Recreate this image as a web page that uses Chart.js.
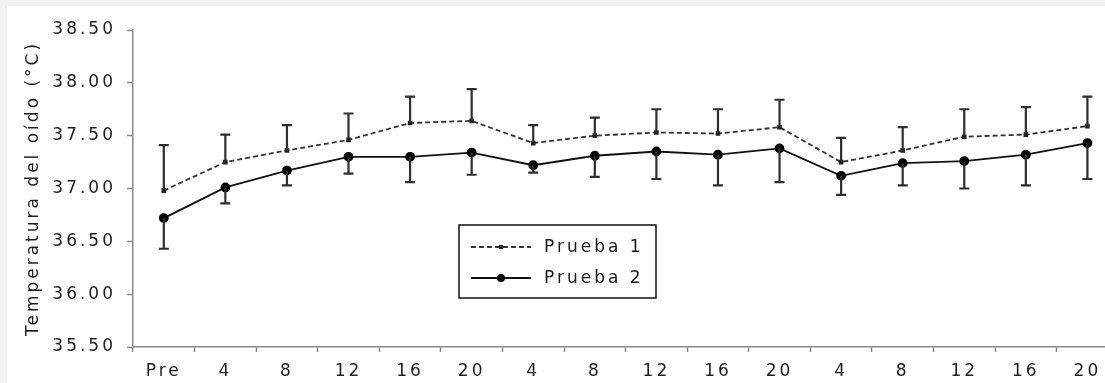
<!DOCTYPE html>
<html>
<head>
<meta charset="utf-8">
<script src="https://cdn.jsdelivr.net/npm/chart.js@4/dist/chart.umd.min.js"></script>
<style>
  html, body { margin: 0; padding: 0; background: #f2f2f2; overflow: hidden; width: 1105px; height: 383px; }
  #wrap { position: absolute; left: 7px; top: 6px; width: 1120px; height: 377px; background: #fff; }
  #chart { display: block; }
</style>
</head>
<body>
<div id="wrap"><canvas id="chart" width="1117" height="377"></canvas></div>
<script>
var labels = ['Pre', '4', '8', '12', '16', '20', '4', '8', '12', '16', '20', '4', '8', '12', '16', '20'];
var prueba1 = [36.98, 37.25, 37.36, 37.46, 37.62, 37.64, 37.43, 37.50, 37.53, 37.52, 37.58, 37.25, 37.36, 37.49, 37.51, 37.59];
var prueba1Upper = [37.41, 37.51, 37.60, 37.71, 37.87, 37.94, 37.60, 37.67, 37.75, 37.75, 37.84, 37.48, 37.58, 37.75, 37.77, 37.87];
var prueba2 = [36.72, 37.01, 37.17, 37.30, 37.30, 37.34, 37.22, 37.31, 37.35, 37.32, 37.38, 37.12, 37.24, 37.26, 37.32, 37.43];
var prueba2Lower = [36.43, 36.86, 37.03, 37.14, 37.06, 37.13, 37.15, 37.11, 37.09, 37.03, 37.06, 36.94, 37.03, 37.00, 37.03, 37.09];
var yTicks = [35.5, 36.0, 36.5, 37.0, 37.5, 38.0, 38.5];

var FONT = { family: "'DejaVu Sans', Verdana, sans-serif", size: 17 };
var SPACING = '3px';

// wide spacing like the original bitmap font
var spacing = {
    id: 'spacing',
    beforeUpdate: function (chart) { chart.ctx.letterSpacing = SPACING; },
    beforeDraw: function (chart) { chart.ctx.letterSpacing = SPACING; }
};

// error bars: Prueba 1 upward, Prueba 2 downward
var errorBars = {
    id: 'errorBars',
    afterDatasetsDraw: function (chart) {
        var ctx = chart.ctx, x = chart.scales.x, y = chart.scales.y;
        ctx.save();
        ctx.strokeStyle = '#2e2e2e';
        ctx.lineWidth = 2.2;
        function bar(i, from, to) {
            var px = x.getPixelForValue(i);
            var y0 = y.getPixelForValue(from), y1 = y.getPixelForValue(to);
            ctx.beginPath();
            ctx.moveTo(px, y0); ctx.lineTo(px, y1);
            ctx.moveTo(px - 5, y1); ctx.lineTo(px + 5, y1);
            ctx.stroke();
        }
        for (var i = 0; i < labels.length; i++) {
            bar(i, prueba1[i], prueba1Upper[i]);
            bar(i, prueba2[i], prueba2Lower[i]);
        }
        ctx.restore();
    }
};

// boxed legend inside the plot
var boxLegend = {
    id: 'boxLegend',
    afterDraw: function (chart) {
        var ctx = chart.ctx;
        var bx = 452, by = 219, bw = 197, bh = 73;
        ctx.save();
        ctx.strokeStyle = '#111';
        ctx.lineWidth = 1.5;
        ctx.strokeRect(bx, by, bw, bh);
        ctx.font = FONT.size + 'px ' + FONT.family;
        ctx.textBaseline = 'middle';
        ctx.letterSpacing = SPACING;
        chart.data.datasets.forEach(function (ds, k) {
            var ry = by + 22 + k * 31;
            ctx.strokeStyle = ds.borderColor;
            ctx.lineWidth = ds.borderWidth;
            ctx.setLineDash(ds.borderDash || []);
            ctx.beginPath();
            ctx.moveTo(bx + 12, ry); ctx.lineTo(bx + 72, ry);
            ctx.stroke();
            ctx.setLineDash([]);
            ctx.fillStyle = ds.pointBackgroundColor;
            if (ds.pointStyle === 'rect') {
                ctx.fillRect(bx + 42 - 2, ry - 2, 4, 4);
            } else {
                ctx.beginPath();
                ctx.arc(bx + 42, ry, 4, 0, Math.PI * 2);
                ctx.fill();
            }
            ctx.fillStyle = '#1a1a1a';
            ctx.fillText(ds.label, bx + 85, ry + 1);
        });
        ctx.restore();
    }
};

var ctx = document.getElementById('chart').getContext('2d');
var chart = new Chart(ctx, {
    type: 'line',
    data: {
        labels: labels,
        datasets: [
            {
                label: 'Prueba 1',
                data: prueba1,
                borderColor: '#333',
                borderWidth: 1.8,
                borderDash: [5, 3],
                pointStyle: 'rect',
                pointRadius: 2,
                pointBackgroundColor: '#222',
                pointBorderColor: '#222',
                tension: 0
            },
            {
                label: 'Prueba 2',
                data: prueba2,
                borderColor: '#111',
                borderWidth: 1.8,
                pointStyle: 'circle',
                pointRadius: 4,
                pointBackgroundColor: '#000',
                pointBorderColor: '#000',
                tension: 0
            }
        ]
    },
    options: {
        responsive: false,
        animation: false,
        layout: { padding: { top: 24, right: 0, left: 0, bottom: 0 } },
        plugins: { legend: { display: false }, tooltip: { enabled: false } },
        scales: {
            x: {
                offset: true,
                grid: { offset: true, drawOnChartArea: false, drawTicks: true, tickLength: 5, tickColor: '#888', tickWidth: 1.5 },
                border: { color: '#8a8a8a', width: 1.5 },
                ticks: { color: '#1e1e1e', font: FONT, padding: 9, maxRotation: 0, autoSkip: false },
                afterFit: function (s) { s.height = 36; }
            },
            y: {
                min: 35.5,
                max: 38.5,
                afterBuildTicks: function (s) { s.ticks = yTicks.map(function (v) { return { value: v }; }); },
                grid: { drawOnChartArea: false, drawTicks: true, tickLength: 6, tickColor: '#888', tickWidth: 1.5 },
                border: { color: '#8a8a8a', width: 1.5 },
                ticks: { color: '#1e1e1e', font: FONT, padding: 11, callback: function (v) { return Number(v).toFixed(2); } },
                title: { display: true, text: 'Temperatura del oído (°C)', color: '#1e1e1e', font: FONT, padding: { top: 16, bottom: 0 } },
                afterFit: function (s) { s.width = 126; }
            }
        }
    },
    plugins: [spacing, errorBars, boxLegend]
});
</script>
</body>
</html>
